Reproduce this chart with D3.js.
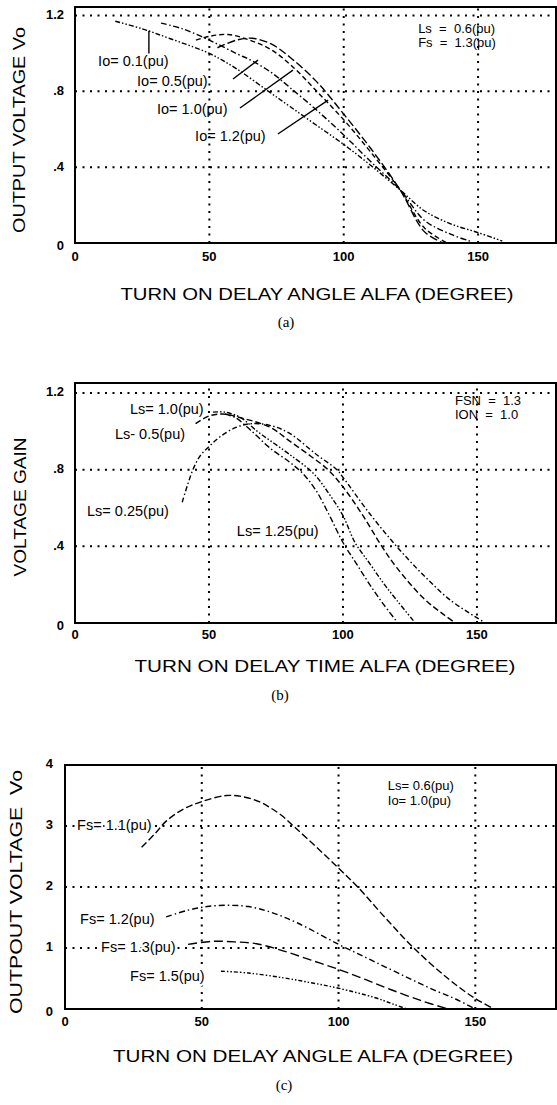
<!DOCTYPE html>
<html><head><meta charset="utf-8">
<script src="https://cdn.jsdelivr.net/npm/d3@7"></script>
<style>
body{margin:0;background:#fff;}
svg{display:block;}
text{font-family:"Liberation Sans",Arial,Helvetica,sans-serif;fill:#000;}
</style></head><body>
<svg id="chart" width="557" height="1105"></svg>
<script>
// ---------- DATA ----------
const xTicks = [0, 50, 100, 150];
const xTickLabels = ["0", "50", "100", "150"];
const gridX = [50, 100, 150];

// Panel (a)
const aYTicks = [0, 0.4, 0.8, 1.2];
const aYTickLabels = ["0", ".4", ".8", "1.2"];
const aGridY = [0.4, 0.8, 1.2];
const aIo01 = [[15,1.17],[25,1.13],[35,1.08],[50,1.0],[60,0.92],[72,0.80],[80,0.72],[90,0.62],[100,0.52],[110,0.41],[121,0.28],[130,0.17],[140,0.10],[150,0.055],[159,0.01]];
const aIo05 = [[32,1.16],[40,1.13],[50,1.07],[60,1.0],[66,0.96],[73,0.90],[80,0.82],[90,0.70],[100,0.57],[110,0.43],[121,0.28],[130,0.12],[140,0.045],[147,0.01]];
const aIo10 = [[45,1.07],[50,1.09],[57,1.10],[65,1.07],[73,1.02],[81,0.93],[90,0.80],[100,0.65],[110,0.48],[121,0.28],[130,0.08],[138.5,0.0]];
const aIo12 = [[53,1.03],[60,1.07],[66,1.08],[73,1.05],[80,0.98],[90,0.85],[100,0.68],[110,0.50],[121,0.28],[130,0.06],[137,0.0]];

// Panel (b)
const bYTicks = [0, 0.4, 0.8, 1.2];
const bYTickLabels = ["0", ".4", ".8", "1.2"];
const bGridY = [0.4, 0.8, 1.2];
const bLs025 = [[40,0.63],[42,0.72],[44,0.80],[46.6,0.87],[50,0.92],[54,0.97],[60,1.02],[66,1.04],[73,1.03],[80,0.99],[90,0.88],[97.7,0.80],[100,0.76],[110,0.57],[120,0.40],[130,0.25],[140,0.12],[152,0.01]];
const bLs05 = [[45,1.04],[50,1.08],[55,1.09],[62,1.07],[73,1.02],[80,0.95],[88,0.87],[94.4,0.80],[100,0.71],[107,0.57],[114.5,0.40],[120,0.29],[130,0.13],[137,0.05],[142,0.0]];
const bLs10 = [[51.5,1.10],[56,1.10],[62,1.07],[68,1.0],[73,0.95],[80,0.88],[89,0.78],[95,0.67],[100,0.56],[104.5,0.42],[110,0.31],[115,0.21],[120,0.12],[127,0.0]];
const bLs125 = [[56,1.09],[60,1.07],[66,1.0],[73,0.91],[80,0.84],[85,0.78],[90,0.69],[95,0.56],[100,0.42],[105,0.31],[110,0.20],[115,0.10],[120.5,0.0]];

// Panel (c)
const cYTicks = [0, 1, 2, 3, 4];
const cYTickLabels = ["0", "1", "2", "3", "4"];
const cGridY = [1, 2, 3];
const cFs11 = [[28,2.65],[33,2.88],[37,3.08],[43,3.27],[50,3.40],[59,3.50],[65,3.48],[71,3.40],[75,3.30],[79,3.18],[84,2.98],[92,2.65],[100,2.31],[107,2.0],[117,1.5],[127.5,1.0],[140,0.5],[150,0.17],[157,0.0]];
const cFs12 = [[37,1.51],[45,1.62],[52,1.68],[59,1.70],[67,1.68],[75,1.59],[85,1.41],[100,1.06],[112,0.80],[125,0.52],[135,0.31],[143,0.16],[150,0.0]];
const cFs13 = [[45,1.06],[54,1.11],[62,1.10],[70,1.07],[80,0.95],[90,0.80],[100,0.65],[110,0.48],[119,0.32],[130,0.14],[140,0.0]];
const cFs15 = [[57,0.62],[67,0.59],[80,0.51],[90,0.43],[100,0.34],[113,0.19],[120,0.08],[125,0.0]];

// ---------- DRAW ----------
const svg = d3.select("#chart");

function panel(cfg) {
  const g = svg.append("g");
  const x = d3.scaleLinear().domain(cfg.xDomain).range([cfg.left, cfg.right]);
  const y = d3.scaleLinear().domain(cfg.yDomain).range([cfg.bottom, cfg.top]);

  // grid (dotted)
  g.selectAll(".gx").data(gridX).join("line")
    .attr("x1", d => x(d)).attr("x2", d => x(d))
    .attr("y1", cfg.bottom).attr("y2", cfg.top)
    .attr("stroke", "#000").attr("stroke-width", 2).attr("stroke-dasharray", "2,5.5");
  g.selectAll(".gy").data(cfg.gridY).join("line")
    .attr("y1", d => y(d)).attr("y2", d => y(d))
    .attr("x1", cfg.left).attr("x2", cfg.right)
    .attr("stroke", "#000").attr("stroke-width", 2).attr("stroke-dasharray", "2,5.5");

  // frame
  g.append("rect").attr("x", cfg.left).attr("y", cfg.top)
    .attr("width", cfg.right - cfg.left).attr("height", cfg.bottom - cfg.top)
    .attr("fill", "none").attr("stroke", "#000").attr("stroke-width", 2);

  // x tick labels
  g.selectAll(".xt").data(xTicks).join("text")
    .attr("x", d => x(d)).attr("y", cfg.bottom + cfg.xLabOff)
    .attr("text-anchor", "middle").attr("dominant-baseline", "middle")
    .attr("font-size", 13).attr("font-weight", "bold")
    .text((d, i) => xTickLabels[i]);
  // y tick labels
  g.selectAll(".yt").data(cfg.yTicks).join("text")
    .attr("x", cfg.left - cfg.yLabOff)
    .attr("y", (d, i) => y(d) + (i === 0 ? 4 : 0))
    .attr("text-anchor", "end").attr("dominant-baseline", "middle")
    .attr("font-size", 13).attr("font-weight", "bold")
    .text((d, i) => cfg.yTickLabels[i]);

  // curves
  const line = d3.line().x(d => x(d[0])).y(d => y(d[1])).curve(d3.curveCatmullRom.alpha(0.5));
  cfg.series.forEach(s => {
    g.append("path").attr("d", line(s.data)).attr("fill", "none")
      .attr("stroke", "#000").attr("stroke-width", 1.4).attr("stroke-dasharray", s.dash);
  });

  // leaders
  (cfg.leaders || []).forEach(l => {
    g.append("line").attr("x1", x(l[0][0])).attr("y1", y(l[0][1]))
      .attr("x2", x(l[1][0])).attr("y2", y(l[1][1]))
      .attr("stroke", "#000").attr("stroke-width", 1.4);
  });

  // annotations
  cfg.notes.forEach(n => {
    const t = g.append("text").attr("x", x(n.a)).attr("y", y(n.v))
      .attr("dominant-baseline", "middle").attr("font-size", n.s || 14.5)
      .attr("xml:space", "preserve")
      .text(n.t);
    if (n.halo) t.attr("stroke", "#fff").attr("stroke-width", 4).attr("paint-order", "stroke");
  });

  // axis titles
  g.append("text").attr("x", cfg.xTitle.x).attr("y", cfg.xTitle.y)
    .attr("text-anchor", "middle").attr("dominant-baseline", "middle")
    .attr("font-size", 16).attr("textLength", cfg.xTitle.len).attr("lengthAdjust", "spacingAndGlyphs")
    .text(cfg.xTitle.t);
  g.append("text").attr("transform", `translate(${cfg.yTitle.x},${cfg.yTitle.y}) rotate(-90)`)
    .attr("text-anchor", "middle").attr("dominant-baseline", "middle")
    .attr("font-size", 17).attr("textLength", cfg.yTitle.len).attr("lengthAdjust", "spacingAndGlyphs")
    .attr("xml:space", "preserve")
    .text(cfg.yTitle.t);
  g.append("text").attr("x", cfg.cap.x).attr("y", cfg.cap.y)
    .attr("text-anchor", "middle").attr("dominant-baseline", "middle")
    .attr("font-size", 15).style("font-family", '"Liberation Serif","Times New Roman",serif')
    .text(cfg.cap.t);
}

panel({
  left: 75, right: 556, top: 7, bottom: 243,
  xDomain: [0, 179], yDomain: [0, 1.245],
  yTicks: aYTicks, yTickLabels: aYTickLabels, gridY: aGridY,
  xLabOff: 15, yLabOff: 11,
  series: [
    {data: aIo01, dash: "5,2,1.5,2,1.5,2"},
    {data: aIo05, dash: "6,2.5,1.5,2.5"},
    {data: aIo10, dash: "5,3"},
    {data: aIo12, dash: "8,3"}
  ],
  leaders: [
    [[27.5, 1.0], [27.5, 1.12]],
    [[58.8, 0.865], [68.1, 0.965]],
    [[61.4, 0.712], [81.1, 0.912]],
    [[75.5, 0.575], [94.2, 0.754]]
  ],
  notes: [
    {a: 8.6, v: 0.955, t: "Io= 0.1(pu)"},
    {a: 23.1, v: 0.849, t: "Io= 0.5(pu)"},
    {a: 30.5, v: 0.701, t: "Io= 1.0(pu)"},
    {a: 44.7, v: 0.559, t: "Io= 1.2(pu)"},
    {a: 127.7, v: 1.125, t: "Ls  =  0.6(pu)", s: 13},
    {a: 127.7, v: 1.05, t: "Fs  =  1.3(pu)", s: 13}
  ],
  xTitle: {x: 317, y: 296, len: 393, t: "TURN ON DELAY ANGLE ALFA (DEGREE)"},
  yTitle: {x: 21, y: 130, len: 206, t: "OUTPUT VOLTAGE Vo"},
  cap: {x: 286, y: 324, t: "(a)"}
});

panel({
  left: 75, right: 556, top: 383, bottom: 623,
  xDomain: [0, 179.5], yDomain: [0, 1.252],
  yTicks: bYTicks, yTickLabels: bYTickLabels, gridY: bGridY,
  xLabOff: 13, yLabOff: 11,
  series: [
    {data: bLs025, dash: "5,2.5,1.5,2.5"},
    {data: bLs05, dash: "6,3"},
    {data: bLs10, dash: "5,2,1.5,2,1.5,2"},
    {data: bLs125, dash: "6,2.5,1.5,2.5"}
  ],
  leaders: [],
  notes: [
    {a: 20.5, v: 1.111, t: "Ls= 1.0(pu)"},
    {a: 14.9, v: 0.98, t: "Ls- 0.5(pu)"},
    {a: 4.5, v: 0.58, t: "Ls= 0.25(pu)"},
    {a: 60.4, v: 0.475, t: "Ls= 1.25(pu)"},
    {a: 141.8, v: 1.155, t: "FSN  =  1.3", s: 13},
    {a: 141.8, v: 1.08, t: "ION  =  1.0", s: 13}
  ],
  xTitle: {x: 325, y: 668, len: 381, t: "TURN ON DELAY TIME ALFA (DEGREE)"},
  yTitle: {x: 22, y: 507, len: 139, t: "VOLTAGE GAIN"},
  cap: {x: 280, y: 697, t: "(b)"}
});

panel({
  left: 65, right: 556, top: 765, bottom: 1009,
  xDomain: [0, 179.5], yDomain: [0, 4],
  yTicks: cYTicks, yTickLabels: cYTickLabels, gridY: cGridY,
  xLabOff: 14, yLabOff: 12,
  series: [
    {data: cFs11, dash: "7,3"},
    {data: cFs12, dash: "6,3,1.5,3"},
    {data: cFs13, dash: "9,4"},
    {data: cFs15, dash: "4,2,1.5,2,1.5,2"}
  ],
  leaders: [],
  notes: [
    {a: 4.4, v: 3.0, t: "Fs= 1.1(pu)", halo: true},
    {a: 5.5, v: 1.45, t: "Fs= 1.2(pu)", halo: true},
    {a: 13.2, v: 1.0, t: "Fs= 1.3(pu)", halo: true},
    {a: 23.8, v: 0.52, t: "Fs= 1.5(pu)", halo: true},
    {a: 118, v: 3.64, t: "Ls= 0.6(pu)", s: 13},
    {a: 118, v: 3.40, t: "Io= 1.0(pu)", s: 13}
  ],
  xTitle: {x: 313, y: 1058, len: 400, t: "TURN ON DELAY ANGLE ALFA (DEGREE)"},
  yTitle: {x: 18, y: 892, len: 244, t: "OUTPOUT VOLTAGE  Vo"},
  cap: {x: 284, y: 1087, t: "(c)"}
});
</script></body></html>
